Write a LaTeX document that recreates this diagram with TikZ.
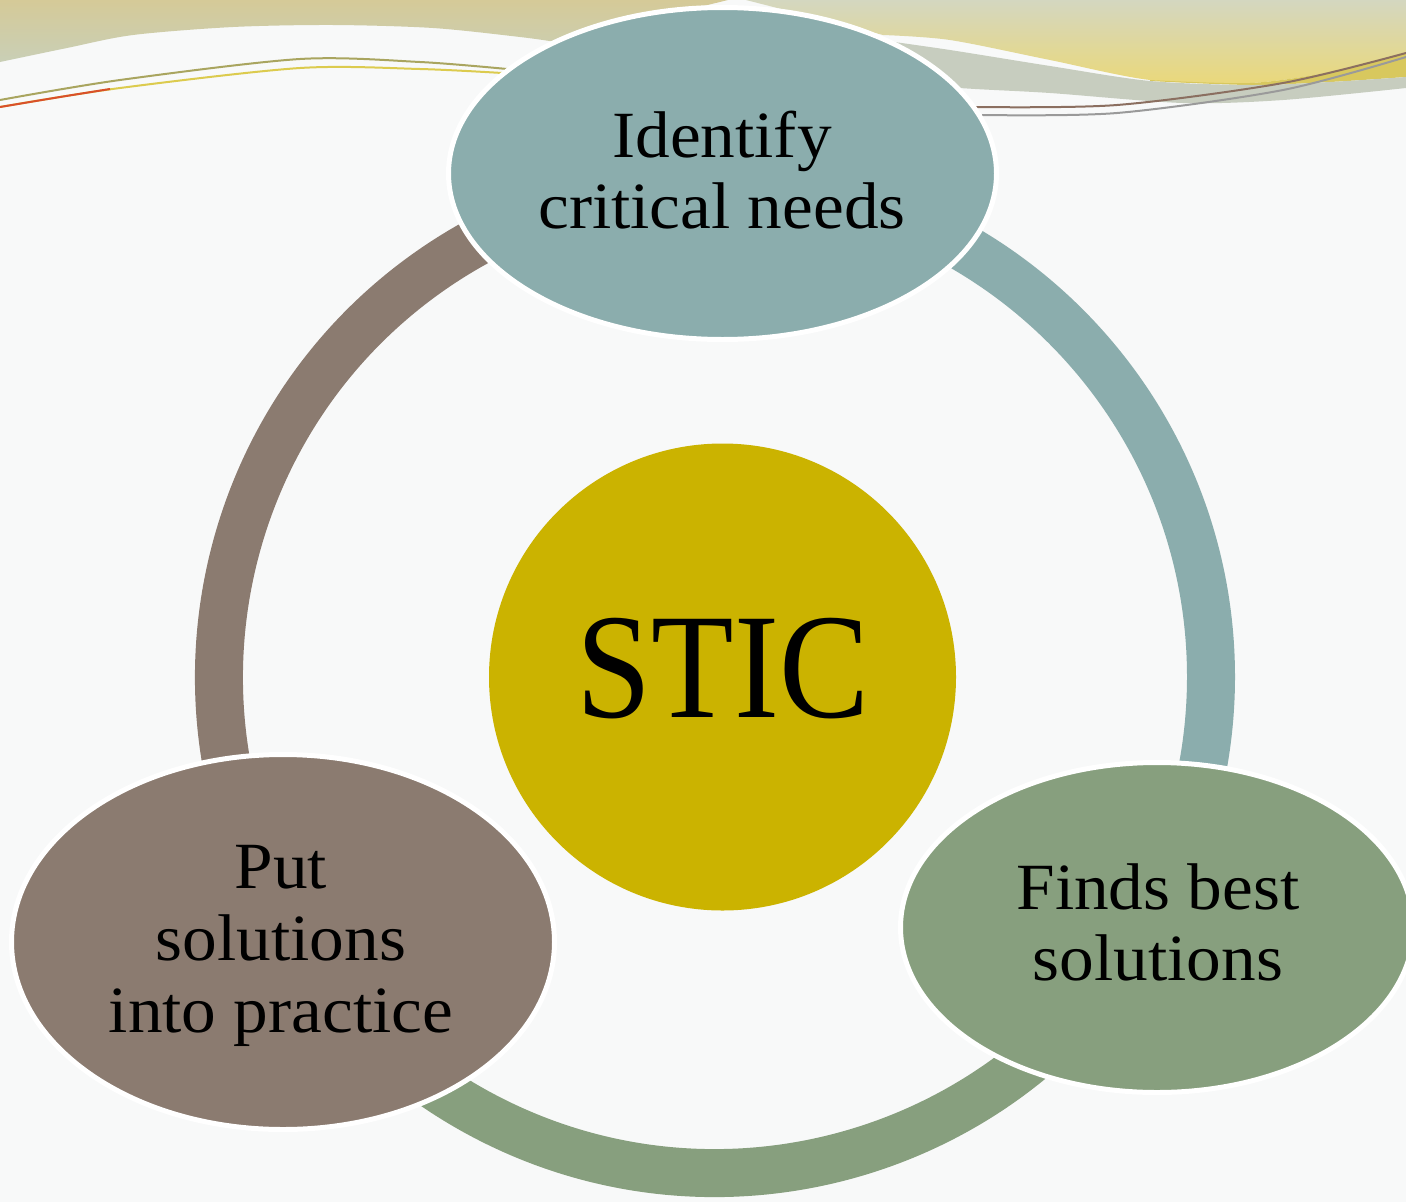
\documentclass[tikz,border=0pt]{standalone}
\usepackage{fontspec}
\setmainfont[FakeStretch=1.05]{Liberation Serif}
\newfontfamily\sticfont[FakeStretch=0.9]{Liberation Serif}
\usetikzlibrary{shapes.geometric}
\definecolor{bgc}{HTML}{F8F9F9}
\definecolor{tealc}{HTML}{8BADAD}
\definecolor{greenc}{HTML}{879F7E}
\definecolor{brownc}{HTML}{8B7B70}
\definecolor{goldc}{HTML}{CBB300}
\definecolor{beigetop}{HTML}{D5CA98}
\definecolor{beigebot}{HTML}{C9CFB6}
\definecolor{ylwtop}{HTML}{D4D7C0}
\definecolor{ylwbot}{HTML}{EAD87A}
\definecolor{ylwdark}{HTML}{D8C85E}
\definecolor{greyband}{HTML}{C7CDBF}
\definecolor{olivel}{HTML}{A9A55F}
\definecolor{yellowl}{HTML}{DCCB4E}
\definecolor{redl}{HTML}{D9502A}
\definecolor{brownl}{HTML}{8B6F60}
\definecolor{greyl}{HTML}{9A9A9A}
\begin{document}
\begin{tikzpicture}[x=1pt,y=-1pt,
  bubble/.style={ellipse, draw=white, line width=5pt, inner sep=0pt},
  lbl/.style={anchor=base, font=\fontsize{66}{72}\selectfont, inner sep=0pt, text=black},
  ringseg/.style={line width=48pt, line cap=butt},
  decoline/.style={line width=2pt}]
\useasboundingbox (0,0) rectangle (1406,1202);
\fill[bgc] (0,0) rectangle (1406,1202);

% top decoration, left
\shade[top color=beigetop, bottom color=beigebot]
  (0,0) -- (728,0) -- (556,42) -- plot[smooth] coordinates {(556,42) (520,37) (433,28) (333,25) (233,27) (133,35) (67,48) (0,62)} -- cycle;
\draw[decoline, olivel] plot[smooth] coordinates {(0,100) (120,80) (300,59) (420,62) (507,69)};
\draw[decoline, yellowl] plot[smooth] coordinates {(0,107) (120,88) (300,68) (420,69) (502,73)};
\draw[decoline, redl] plot[smooth] coordinates {(0,107) (60,97) (110,89)};

% top decoration, right
\shade[top color=ylwtop, bottom color=ylwbot]
  (746,0) -- (883,35) -- plot[smooth] coordinates {(883,35) (950,40) (1050,60) (1150,80) (1250,83) (1330,72) (1406,53)} -- (1406,0) -- cycle;
\fill[ylwdark] plot[smooth] coordinates {(1150,80) (1250,83) (1330,72) (1406,53)} -- (1406,77) -- plot[smooth] coordinates {(1406,77) (1330,82) (1250,85) (1150,81)} -- cycle;
\fill[greyband] plot[smooth] coordinates {(880,40) (950,50) (1050,66) (1150,81) (1250,85) (1330,82) (1406,77)} -- (1406,88) -- plot[smooth] coordinates {(1406,88) (1283,100) (1183,103) (1050,93) (960,88) (880,80)} -- cycle;
\draw[decoline, brownl] plot[smooth] coordinates {(975,107) (1117,105) (1283,83) (1406,53)};
\draw[decoline, greyl] plot[smooth] coordinates {(982,115) (1117,113) (1283,90) (1406,57)};

% ring
\coordinate (ctr) at (715,677);
\draw[ringseg, tealc] (ctr) ++(-90:496) arc[start angle=-90, end angle=30, radius=496];
\draw[ringseg, greenc] (ctr) ++(29:496) arc[start angle=29, end angle=149, radius=496];
\draw[ringseg, brownc] (ctr) ++(148:496) arc[start angle=148, end angle=271, radius=496];

% bubbles
\node[bubble, fill=tealc, minimum width=548pt, minimum height=332pt] (top) at (722.5,173.5) {};
\node[bubble, fill=greenc, minimum width=513pt, minimum height=330pt] (right) at (1157,927.5) {};
\node[bubble, fill=brownc, minimum width=543pt, minimum height=375pt] (left) at (283,942) {};
\node[circle, fill=goldc, minimum size=467pt, inner sep=0pt] (core) at (722.5,677) {};

% labels
\node[lbl] (t1a) at (722,157) {Identify};
\node[lbl] (t1b) at (722,228) {critical needs};
\node[lbl] (t2a) at (1158,909) {Finds best};
\node[lbl] (t2b) at (1158,980) {solutions};
\node[lbl] (t3a) at (281,888) {Put};
\node[lbl] (t3b) at (281,960) {solutions};
\node[lbl] (t3c) at (281,1032) {into practice};
\node[anchor=base, inner sep=0pt, font=\sticfont\fontsize{150}{150}\selectfont] (stic) at (723,717) {STIC};
\end{tikzpicture}
\end{document}
